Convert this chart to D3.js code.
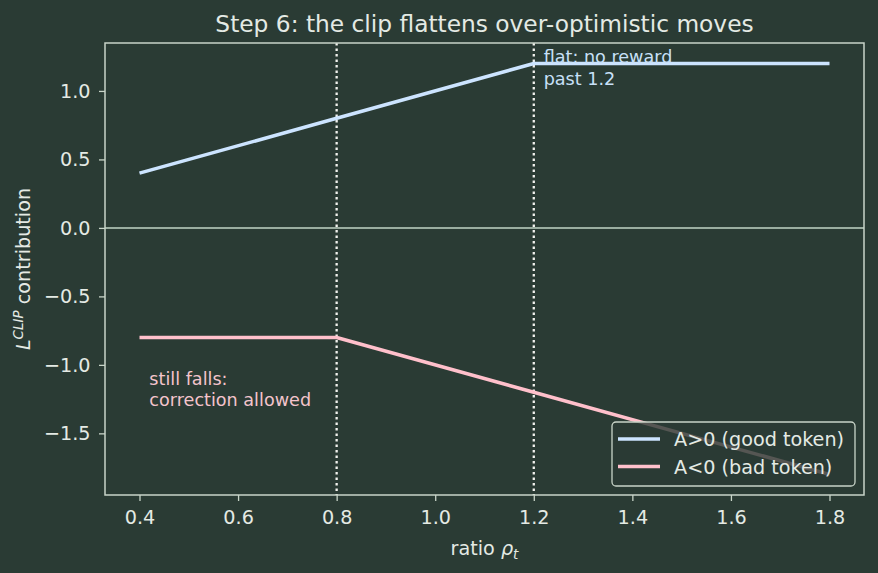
<!DOCTYPE html>
<html>
<head>
<meta charset="utf-8">
<script src="https://cdn.jsdelivr.net/npm/d3@7"></script>
<style>
  html, body { margin: 0; padding: 0; background: #2a3b34; }
  svg { display: block; }
  text { font-family: "DejaVu Sans", sans-serif; }
</style>
</head>
<body>
<svg id="chart" width="878" height="573"></svg>
<script>
// ---- data ----
const ratio = [0.4, 0.8, 1.2, 1.8];
const goodToken = [0.4, 0.8, 1.2, 1.2];     // A>0
const badToken = [-0.8, -0.8, -1.2, -1.8];  // A<0
const clipBounds = [0.8, 1.2];
const xTicks = [0.4, 0.6, 0.8, 1.0, 1.2, 1.4, 1.6, 1.8];
const yTicks = [-1.5, -1.0, -0.5, 0.0, 0.5, 1.0];
const seriesNames = ["A>0 (good token)", "A<0 (bad token)"];
const titleText = "Step 6: the clip flattens over-optimistic moves";
const annTop = ["flat: no reward", "past 1.2"];
const annBottom = ["still falls:", "correction allowed"];

// ---- style ----
const bg = "#2a3b34";
const fg = "#e4eae4";
const spine = "#c8d4c8";
const blue = "#cce4ff";
const pink = "#ffc0cb";
const tickFont = 19.2;

const svg = d3.select("#chart");
svg.append("rect").attr("width", 878).attr("height", 573).attr("fill", bg);

const pLeft = 105, pRight = 864, pTop = 43, pBottom = 495;

const xmin = d3.min(ratio), xmax = d3.max(ratio);
const xm = (xmax - xmin) * 0.05;
const allY = goodToken.concat(badToken);
const ymin = d3.min(allY), ymax = d3.max(allY);
const ym = (ymax - ymin) * 0.05;

const x = d3.scaleLinear().domain([xmin - xm, xmax + xm]).range([pLeft, pRight]);
const y = d3.scaleLinear().domain([ymin - ym, ymax + ym]).range([pBottom, pTop]);

// axes
const fmt = d3.format(".1f");
const xAxis = svg.append("g").attr("transform", `translate(0,${pBottom})`)
  .call(d3.axisBottom(x).tickValues(xTicks).tickFormat(fmt).tickSize(6).tickPadding(9.5));
const yAxis = svg.append("g").attr("transform", `translate(${pLeft},0)`)
  .call(d3.axisLeft(y).tickValues(yTicks).tickFormat(fmt).tickSize(6).tickPadding(8.5));
[xAxis, yAxis].forEach(g => {
  g.select(".domain").remove();
  g.selectAll(".tick line").attr("stroke", spine).attr("stroke-width", 1.3);
  g.selectAll(".tick text").attr("fill", fg).attr("font-size", tickFont)
    .attr("font-family", "DejaVu Sans");
});

// zero line
svg.append("line")
  .attr("x1", pLeft).attr("x2", pRight)
  .attr("y1", y(0)).attr("y2", y(0))
  .attr("stroke", "#c0d4c4").attr("stroke-width", 1.5);

// clip boundaries
svg.selectAll("line.clip").data(clipBounds).enter().append("line")
  .attr("class", "clip")
  .attr("x1", d => x(d)).attr("x2", d => x(d))
  .attr("y1", pTop).attr("y2", pBottom)
  .attr("stroke", "#f2f2ee").attr("stroke-width", 2.3)
  .attr("stroke-dasharray", "2.5,3");

// lines
const line = d3.line().x(d => x(d[0])).y(d => y(d[1]));
const series = [
  { name: seriesNames[0], color: blue, values: ratio.map((r, i) => [r, goodToken[i]]) },
  { name: seriesNames[1], color: pink, values: ratio.map((r, i) => [r, badToken[i]]) }
];
svg.selectAll("path.series").data(series).enter().append("path")
  .attr("class", "series")
  .attr("d", d => line(d.values))
  .attr("fill", "none")
  .attr("stroke", d => d.color)
  .attr("stroke-width", 3.6)
  .attr("stroke-linejoin", "round");

// annotations
const tTop = svg.append("text").attr("fill", "#c8e0f8").attr("font-size", 17.6);
annTop.forEach((s, i) => tTop.append("tspan").attr("x", x(1.22)).attr("y", y(1.3) + 13 + i * 22).text(s));
const tBot = svg.append("text").attr("fill", "#f4c4cc").attr("font-size", 17.6);
annBottom.forEach((s, i) => tBot.append("tspan").attr("x", x(0.42)).attr("y", y(-1.05) + 13 + i * 21).text(s));

// spines
svg.append("rect")
  .attr("x", pLeft).attr("y", pTop)
  .attr("width", pRight - pLeft).attr("height", pBottom - pTop)
  .attr("fill", "none").attr("stroke", spine).attr("stroke-width", 1.5);

// title
svg.append("text")
  .attr("x", (pLeft + pRight) / 2).attr("y", 32)
  .attr("text-anchor", "middle")
  .attr("fill", fg).attr("font-size", 23.3)
  .text(titleText);

// x label
const xl = svg.append("text")
  .attr("x", (pLeft + pRight) / 2).attr("y", 555)
  .attr("text-anchor", "middle")
  .attr("fill", fg).attr("font-size", tickFont);
xl.append("tspan").text("ratio ");
xl.append("tspan").attr("font-style", "italic").text("ρ");
xl.append("tspan").attr("font-style", "italic").attr("font-size", 13.5).attr("dy", 4).text("t");

// y label
const yl = svg.append("text")
  .attr("transform", `translate(30,${(pTop + pBottom) / 2}) rotate(-90)`)
  .attr("text-anchor", "middle")
  .attr("fill", fg).attr("font-size", tickFont);
yl.append("tspan").attr("font-style", "italic").text("L");
yl.append("tspan").attr("font-style", "italic").attr("font-size", 13.5).attr("dy", -7.5).text("CLIP");
yl.append("tspan").attr("dy", 7.5).text(" contribution");

// legend
const lg = svg.append("g");
lg.append("rect")
  .attr("x", 612).attr("y", 422).attr("width", 243).attr("height", 64)
  .attr("rx", 4).attr("ry", 4)
  .attr("fill", bg).attr("fill-opacity", 0.8)
  .attr("stroke", spine).attr("stroke-width", 1.3);
series.forEach((s, i) => {
  const cy = 439 + i * 27.5;
  lg.append("line").attr("x1", 618).attr("x2", 660).attr("y1", cy).attr("y2", cy)
    .attr("stroke", s.color).attr("stroke-width", 3.6);
  lg.append("text").attr("x", 674).attr("y", cy + 7)
    .attr("fill", fg).attr("font-size", tickFont).text(s.name);
});
</script>
</body>
</html>
